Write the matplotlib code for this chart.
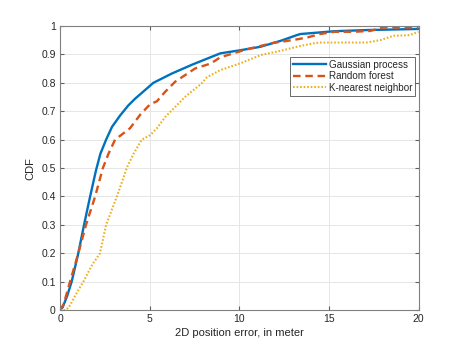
import matplotlib
matplotlib.use("Agg")
import matplotlib.pyplot as plt

gp_x = [0, 0.15, 0.4, 0.65, 1.02, 1.34, 1.68, 2.0, 2.25, 2.57, 2.9, 3.35, 3.8, 4.2, 4.84, 5.2, 6.24, 7.4, 8.94, 10.06, 11.17, 12.3, 13.2, 13.4, 15.3, 17.1, 20]
gp_y = [0, 0.01, 0.05, 0.1, 0.2, 0.3, 0.4, 0.49, 0.55, 0.6, 0.645, 0.685, 0.72, 0.745, 0.78, 0.8, 0.833, 0.865, 0.904, 0.915, 0.927, 0.948, 0.968, 0.972, 0.982, 0.986, 0.99]

rf_x = [0, 0.2, 0.56, 1.02, 1.45, 1.96, 2.39, 2.7, 3.07, 3.9, 4.5, 5.03, 5.4, 5.87, 6.42, 7.54, 8.4, 8.94, 10.4, 11.9, 13.0, 13.8, 14.5, 15.3, 16.4, 17.3, 18.0, 20]
rf_y = [0, 0.02, 0.1, 0.2, 0.3, 0.4, 0.5, 0.55, 0.6, 0.64, 0.69, 0.725, 0.735, 0.769, 0.804, 0.851, 0.868, 0.89, 0.918, 0.941, 0.951, 0.96, 0.972, 0.98, 0.98, 0.983, 0.995, 0.995]

knn_x = [0, 0.3, 0.5, 0.84, 1.3, 1.8, 2.23, 2.57, 3.17, 3.45, 3.72, 4.1, 4.56, 5.03, 5.4, 5.87, 6.98, 7.9, 8.2, 8.94, 10.06, 11.2, 12.3, 13.2, 14.1, 14.5, 17.1, 17.9, 18.6, 19.5, 20]
knn_y = [0, 0, 0.01, 0.05, 0.1, 0.16, 0.2, 0.3, 0.4, 0.45, 0.5, 0.55, 0.6, 0.616, 0.64, 0.68, 0.751, 0.798, 0.82, 0.845, 0.869, 0.898, 0.913, 0.927, 0.939, 0.942, 0.942, 0.951, 0.966, 0.968, 0.98]

labels = ["Gaussian process", "Random forest", "K-nearest neighbor"]
colors = ["#0072BD", "#D95319", "#EDB120"]
xticks = [0, 5, 10, 15, 20]
yticks = [0, 0.1, 0.2, 0.3, 0.4, 0.5, 0.6, 0.7, 0.8, 0.9, 1]
ytick_labels = ["0", "0.1", "0.2", "0.3", "0.4", "0.5", "0.6", "0.7", "0.8", "0.9", "1"]

plt.rcParams['font.family'] = ['Liberation Sans', 'DejaVu Sans']

fig = plt.figure(figsize=(4.63, 3.48), dpi=100)
ax = fig.add_axes([0.1296, 0.109, 0.7744, 0.816])

ax.plot(gp_x, gp_y, color=colors[0], lw=1.7, label=labels[0], solid_joinstyle='round')
ax.plot(rf_x, rf_y, color=colors[1], lw=1.7, dashes=(3.2, 2.0), label=labels[1])
ax.plot(knn_x, knn_y, color=colors[2], lw=1.5, dashes=(0.8, 0.9), label=labels[2])

ax.set_xlim(0, 20)
ax.set_ylim(0, 1)
ax.set_xticks(xticks)
ax.set_yticks(yticks)
ax.set_yticklabels(ytick_labels)
ax.grid(True, color='#e6e6e6', lw=0.7)
ax.set_axisbelow(True)
for s in ax.spines.values():
    s.set_color('#808080')
    s.set_linewidth(0.8)
ax.tick_params(direction='in', top=True, right=True, length=3, width=0.8,
               color='#606060', labelsize=7.5, labelcolor='#262626', pad=3)

ax.set_xlabel("2D position error, in meter", fontsize=8, color='#262626', labelpad=3)
ax.set_ylabel("CDF", fontsize=8, color='#262626', labelpad=4)

leg = ax.legend(loc='upper right', bbox_to_anchor=(0.99, 0.892), borderaxespad=0,
                fontsize=7.1, frameon=True, fancybox=False, handlelength=3.3,
                handletextpad=0.3, labelspacing=0.15, borderpad=0.3)
leg.get_frame().set_edgecolor('#262626')
leg.get_frame().set_linewidth(0.6)
for t in leg.get_texts():
    t.set_color('#262626')

fig.savefig("out.png", dpi=100)
